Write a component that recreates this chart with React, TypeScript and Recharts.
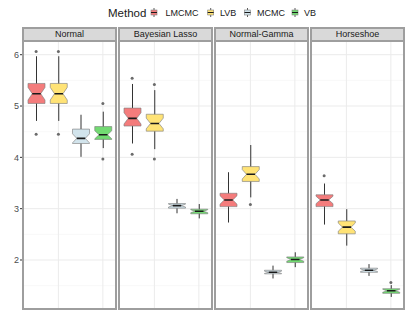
import React from "react";
import { ComposedChart, Bar, Scatter, XAxis, YAxis, CartesianGrid } from "recharts";

const methods = ["LMCMC", "LVB", "MCMC", "VB"];
const facets = ["Normal", "Bayesian Lasso", "Normal-Gamma", "Horseshoe"];
const methodColors = ["#F47C7C", "#FFE376", "#D2E4EC", "#72DA72"];
const yTicks = [2, 3, 4, 5, 6];
const yMinor = [1.5, 2.5, 3.5, 4.5, 5.5];
const replicates = 25;

// [facet][method]
const whiskerLow = [
  [4.71, 4.71, 4.01, 4.18],
  [4.27, 4.16, 2.91, 2.81],
  [2.73, 3.22, 1.64, 1.86],
  [2.69, 2.28, 1.69, 1.28],
];
const lowerQuartile = [
  [5.05, 5.05, 4.27, 4.35],
  [4.61, 4.51, 3.01, 2.9],
  [3.04, 3.53, 1.73, 1.95],
  [3.04, 2.51, 1.76, 1.35],
];
const medians = [
  [5.24, 5.24, 4.37, 4.44],
  [4.76, 4.66, 3.06, 2.95],
  [3.17, 3.67, 1.76, 2.01],
  [3.17, 2.64, 1.8, 1.4],
];
const upperQuartile = [
  [5.44, 5.44, 4.55, 4.6],
  [4.96, 4.84, 3.1, 2.99],
  [3.3, 3.82, 1.8, 2.06],
  [3.27, 2.76, 1.84, 1.44],
];
const whiskerHigh = [
  [5.97, 5.97, 4.83, 4.89],
  [5.43, 5.31, 3.19, 3.09],
  [3.71, 4.24, 1.89, 2.15],
  [3.49, 2.99, 1.92, 1.51],
];
const outlierHigh = [
  [6.06, 6.06, null, 5.05],
  [5.54, 5.42, null, null],
  [null, null, null, null],
  [3.64, null, null, 1.56],
];
const outlierLow = [
  [4.45, 4.45, null, 3.97],
  [4.06, 3.97, null, null],
  [null, 3.08, null, null],
  [null, null, null, null],
];

const FONT = '"Liberation Sans", Arial, Helvetica, sans-serif';
const PANEL_TOP = 41;
const PANEL_H = 268;
const PANEL_W = 93;
const Y_AXIS_W = 23;
const panelLefts = [23, 119, 215, 311];
const yDomain: [number, number] = [1.045, 6.267];
const BORDER = "#9e9e9e";

function rowsFor(f: number) {
  return methods.map((m, i) => ({
    method: m,
    lo: whiskerLow[f][i],
    q1: lowerQuartile[f][i],
    med: medians[f][i],
    q3: upperQuartile[f][i],
    hi: whiskerHigh[f][i],
    outHi: outlierHigh[f][i],
    outLo: outlierLow[f][i],
    color: methodColors[i],
  }));
}

const BoxShape = (props: any) => {
  const { x, y, width, height, payload } = props;
  if (x == null || y == null || !payload) return <g />;
  const top = Math.min(y, y + height);
  const bot = Math.max(y, y + height);
  const { lo, hi, q1, med, q3, color } = payload;
  const py = (v: number) => bot - ((v - lo) / (hi - lo)) * (bot - top);
  const cx = x + width / 2;
  const x0 = x;
  const x1 = x + width;
  const notch = (1.58 * (q3 - q1)) / Math.sqrt(replicates);
  const yQ3 = py(q3);
  const yQ1 = py(q1);
  const yMed = py(med);
  const yNU = py(med + notch);
  const yNL = py(med - notch);
  const nx0 = cx - width / 4;
  const nx1 = cx + width / 4;
  const pts = [
    [x0, yQ3], [x1, yQ3], [x1, yNU], [nx1, yMed], [x1, yNL],
    [x1, yQ1], [x0, yQ1], [x0, yNL], [nx0, yMed], [x0, yNU],
  ].map((p) => p.join(",")).join(" ");
  return (
    <g>
      <line x1={cx} x2={cx} y1={top} y2={bot} stroke="#333" strokeWidth={1} />
      <polygon points={pts} fill={color} stroke="#808080" strokeOpacity={0.8} strokeWidth={0.8} />
      <line x1={nx0} x2={nx1} y1={yMed} y2={yMed} stroke="#1a1a1a" strokeWidth={1.6} />
    </g>
  );
};

const makeDot = (key: string) => (props: any) => {
  const { cx, cy, payload } = props;
  if (!payload || payload[key] == null || cx == null || cy == null || isNaN(cy)) return <g />;
  return <circle cx={cx} cy={cy} r={1.5} fill="#6b6b6b" />;
};
const DotHi = makeDot("outHi");
const DotLo = makeDot("outLo");

function Panel({ f }: { f: number }) {
  const withAxis = f === 0;
  const left = withAxis ? panelLefts[0] - Y_AXIS_W : panelLefts[f];
  const width = withAxis ? PANEL_W + Y_AXIS_W : PANEL_W;
  const data = rowsFor(f);
  return (
    <div style={{ position: "absolute", left, top: PANEL_TOP, width, height: PANEL_H }}>
      <ComposedChart width={width} height={PANEL_H} data={data} margin={{ top: 0, right: 0, bottom: 0, left: 0 }}>
        <XAxis dataKey="method" type="category" hide padding={{ left: 2, right: 2 }} />
        <YAxis
          type="number"
          domain={yDomain}
          allowDataOverflow
          ticks={yTicks}
          hide={!withAxis}
          width={Y_AXIS_W}
          axisLine={false}
          tickLine={{ stroke: "#333", strokeWidth: 1 }}
          tickSize={3}
          tickMargin={1}
          tick={{ fontSize: 9, fill: "#4d4d4d", fontFamily: FONT }}
        />
        <CartesianGrid horizontalValues={yMinor} vertical={false} stroke="#f3f3f3" strokeWidth={0.6} />
        <CartesianGrid horizontalValues={yTicks} verticalValues={methods} stroke="#ebebeb" strokeWidth={1} />
        <Bar dataKey={(d: any) => [d.lo, d.hi]} barSize={17} shape={BoxShape} isAnimationActive={false} />
        <Scatter dataKey="outHi" shape={DotHi} isAnimationActive={false} />
        <Scatter dataKey="outLo" shape={DotLo} isAnimationActive={false} />
      </ComposedChart>
    </div>
  );
}

const legendKeys = [
  { cx: 154, tx: 165.5 },
  { cx: 210.7, tx: 220 },
  { cx: 247.5, tx: 257 },
  { cx: 295, tx: 304 },
];

function Legend() {
  return (
    <svg width={407} height={26} style={{ position: "absolute", left: 0, top: 0 }}>
      <text x={108} y={17} fontSize={11.5} fill="#1a1a1a" fontFamily={FONT}>Method</text>
      {methods.map((m, i) => (
        <g key={m}>
          <line x1={legendKeys[i].cx} x2={legendKeys[i].cx} y1={8} y2={17} stroke="#333" strokeWidth={0.8} />
          <rect x={legendKeys[i].cx - 3} y={10} width={6} height={5} fill={methodColors[i]} stroke="#808080" strokeWidth={0.6} />
          <line x1={legendKeys[i].cx - 3} x2={legendKeys[i].cx + 3} y1={12.5} y2={12.5} stroke="#1a1a1a" strokeWidth={1} />
          <text x={legendKeys[i].tx} y={16} fontSize={9} fill="#1a1a1a" fontFamily={FONT}>{m}</text>
        </g>
      ))}
    </svg>
  );
}

export default function App() {
  return (
    <div style={{ position: "absolute", left: 0, top: 0, width: 407, height: 326, background: "#fff", overflow: "hidden" }}>
      <Legend />
      {facets.map((name, f) => (
        <React.Fragment key={name}>
          <div
            style={{
              position: "absolute",
              left: panelLefts[f] - 1,
              top: 27,
              width: PANEL_W + 2,
              height: 15,
              boxSizing: "border-box",
              border: `2px solid ${BORDER}`,
              background: "#d9d9d9",
              fontFamily: FONT,
              fontSize: 9,
              color: "#1a1a1a",
              textAlign: "center",
              lineHeight: "11px",
            }}
          >
            {name}
          </div>
          <Panel f={f} />
          <div
            style={{
              position: "absolute",
              left: panelLefts[f] - 1,
              top: PANEL_TOP - 1,
              width: PANEL_W + 2,
              height: PANEL_H + 2,
              boxSizing: "border-box",
              border: `2px solid ${BORDER}`,
              pointerEvents: "none",
            }}
          />
        </React.Fragment>
      ))}
    </div>
  );
}
